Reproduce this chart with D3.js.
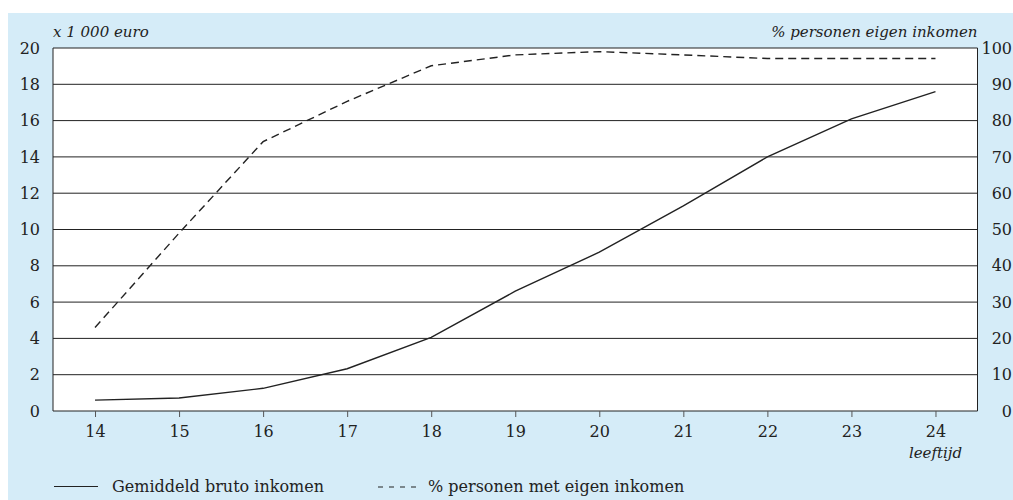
<!DOCTYPE html>
<html><head><meta charset="utf-8">
<script src="https://cdn.jsdelivr.net/npm/d3@7"></script>
<style>
html,body{margin:0;padding:0;background:#fff;}
svg{display:block;}
text{font-family:"DejaVu Serif",serif;fill:#222;}
</style></head>
<body>
<svg id="chart" width="1013" height="500"></svg>
<script>
const ages = [14,15,16,17,18,19,20,21,22,23,24];
const inkomen = [0.6,0.72,1.25,2.33,4.06,6.6,8.75,11.3,14.0,16.1,17.6];
const pctEigen = [23,49,74.2,85.3,95.1,98.1,99.0,98.1,97.1,97.1,97.1];
const leftTicks = [0,2,4,6,8,10,12,14,16,18,20];
const rightTicks = [0,10,20,30,40,50,60,70,80,90,100];
const legendLabels = ["Gemiddeld bruto inkomen","% personen met eigen inkomen"];

const FONT = "'DejaVu Serif', serif";
const svg = d3.select("#chart");
const L = 53, R = 977.5, T = 48, B = 411;

svg.append("rect").attr("x",8).attr("y",13).attr("width",1005).attr("height",487).attr("fill","#d5ecf8");
svg.append("rect").attr("x",L).attr("y",T).attr("width",R-L).attr("height",B-T).attr("fill","#fff");

const x = d3.scaleLinear().domain([13.5,24.5]).range([L,R]);
const yL = d3.scaleLinear().domain([0,20]).range([B,T]);
const yR = d3.scaleLinear().domain([0,100]).range([B,T]);

svg.append("g").selectAll("line").data(leftTicks).join("line")
  .attr("x1",L).attr("x2",R).attr("y1",d=>yL(d)).attr("y2",d=>yL(d))
  .attr("stroke","#222").attr("stroke-width",1);
svg.append("line").attr("x1",L).attr("x2",L).attr("y1",T).attr("y2",B).attr("stroke","#222");
svg.append("line").attr("x1",R).attr("x2",R).attr("y1",T).attr("y2",B).attr("stroke","#222");

svg.append("g").selectAll("text").data(leftTicks).join("text")
  .attr("x",40).attr("y",d=>yL(d)).attr("dy","0.35em").attr("text-anchor","end")
  .attr("font-family",FONT).attr("font-size",16).text(d=>d);
svg.append("g").selectAll("text").data(rightTicks).join("text")
  .attr("x",1012).attr("y",d=>yR(d)).attr("dy","0.35em").attr("text-anchor","end")
  .attr("font-family",FONT).attr("font-size",16).text(d=>d);

const xAxis = d3.axisBottom(x).tickValues(ages).tickSize(6).tickPadding(9).tickFormat(d3.format("d"));
const gx = svg.append("g").attr("transform",`translate(0,${B})`).call(xAxis);
gx.select(".domain").remove();
gx.selectAll(".tick line").attr("stroke","#555");
gx.selectAll(".tick text").attr("font-size",16).attr("font-family",FONT).attr("fill","#222");

svg.append("text").attr("x",L).attr("y",37).attr("font-family",FONT).attr("font-size",15).attr("font-style","italic").text("x 1 000 euro");
svg.append("text").attr("x",R).attr("y",37).attr("font-family",FONT).attr("font-size",15).attr("font-style","italic").attr("text-anchor","end").text("% personen eigen inkomen");
svg.append("text").attr("x",x(24)).attr("y",458).attr("font-family",FONT).attr("font-size",15).attr("font-style","italic").attr("text-anchor","middle").text("leeftijd");

const lineL = d3.line().x((d,i)=>x(ages[i])).y(d=>yL(d));
const lineR = d3.line().x((d,i)=>x(ages[i])).y(d=>yR(d));
svg.append("path").datum(inkomen).attr("d",lineL).attr("fill","none").attr("stroke","#222").attr("stroke-width",1.4);
svg.append("path").datum(pctEigen).attr("d",lineR).attr("fill","none").attr("stroke","#222").attr("stroke-width",1.4).attr("stroke-dasharray","8,5");

svg.append("line").attr("x1",54).attr("x2",98).attr("y1",486.5).attr("y2",486.5).attr("stroke","#222").attr("stroke-width",1.2);
svg.append("text").attr("x",112).attr("y",492).attr("font-family",FONT).attr("font-size",16).text(legendLabels[0]);
svg.append("line").attr("x1",378).attr("x2",419).attr("y1",487).attr("y2",487).attr("stroke","#222").attr("stroke-width",1.2).attr("stroke-dasharray","5,6");
svg.append("text").attr("x",428).attr("y",492).attr("font-family",FONT).attr("font-size",16).text(legendLabels[1]);
</script>
</body></html>
